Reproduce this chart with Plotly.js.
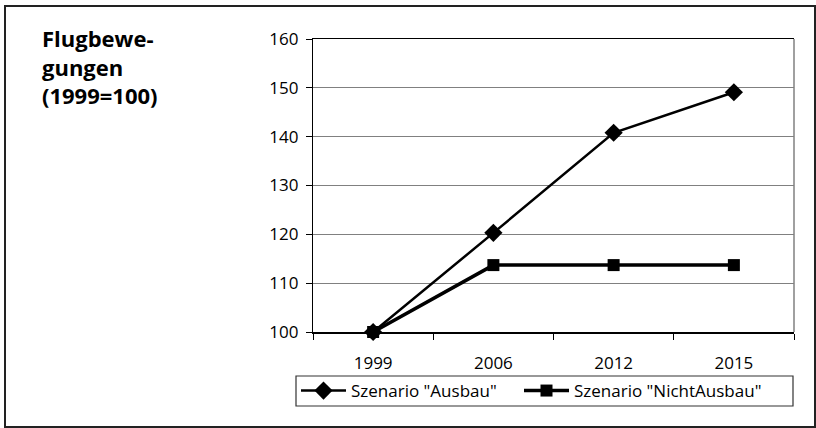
<!DOCTYPE html>
<html>
<head>
<meta charset="utf-8">
<script src="https://cdn.plot.ly/plotly-3.0.1.min.js"></script>
<style>html,body{margin:0;padding:0;background:#fff;}#chart{width:816px;height:428px;}</style>
</head>
<body>
<div id="chart"></div>
<script>
const years = ['1999', '2006', '2012', '2015'];
const ausbau = [100, 120.3, 140.8, 149.1];
const nichtAusbau = [100, 113.7, 113.7, 113.7];
const yTicks = [100, 110, 120, 130, 140, 150, 160];
const seriesNames = ['Szenario "Ausbau"', 'Szenario "NichtAusbau"'];
const titleText = 'Flugbewe-<br>gungen<br>(1999=100)';

const FONT = 'Open Sans, Liberation Sans, sans-serif';

const traces = [
  {
    x: years, y: ausbau, name: seriesNames[0], type: 'scatter', mode: 'lines+markers',
    line: {color: '#000', width: 2.5},
    marker: {symbol: 'diamond', size: 14, color: '#000'},
    cliponaxis: false, legend: 'legend'
  },
  {
    x: years, y: nichtAusbau, name: seriesNames[1], type: 'scatter', mode: 'lines+markers',
    line: {color: '#000', width: 3.5},
    marker: {symbol: 'square', size: 12, color: '#000'},
    cliponaxis: false, legend: 'legend2'
  }
];

const px2x = p => (p - 313) / 481;
const px2y = p => (332 - p) / 293;

const legendBase = {
  orientation: 'h', xanchor: 'left', y: px2y(391), yanchor: 'middle',
  borderwidth: 0, bgcolor: 'rgba(0,0,0,0)',
  font: {family: FONT, size: 17, color: '#000'},
  itemwidth: 45
};

const layout = {
  width: 816, height: 428,
  margin: {l: 313, r: 22, t: 39, b: 96},
  paper_bgcolor: '#fff', plot_bgcolor: '#fff',
  font: {family: FONT, size: 17, color: '#000'},
  showlegend: true,
  xaxis: {
    type: 'category', categoryarray: years, range: [-0.5, 3.5],
    showline: true, linecolor: '#000', linewidth: 1.5, mirror: true,
    ticks: 'outside', ticklen: 6, tickcolor: '#000', tickson: 'boundaries',
    showgrid: false, zeroline: false,
    tickfont: {family: FONT, size: 17, color: '#000'},
    ticklabelstandoff: 15,
    fixedrange: true
  },
  yaxis: {
    range: [100, 160], tickvals: yTicks, ticktext: yTicks.map(String),
    showline: true, linecolor: '#000', linewidth: 1.2,
    ticks: 'outside', ticklen: 6, tickcolor: '#000',
    showgrid: true, gridcolor: '#808080', gridwidth: 1.2, zeroline: false,
    tickfont: {family: FONT, size: 17, color: '#000'},
    ticklabelstandoff: 4,
    fixedrange: true
  },
  legend: Object.assign({}, legendBase, {x: px2x(296)}),
  legend2: Object.assign({}, legendBase, {x: px2x(519)}),
  shapes: [
    {type: 'line', xref: 'paper', yref: 'paper', x0: 1, x1: 1, y0: 0, y1: 1,
     line: {color: '#808080', width: 1.5}},
    {type: 'rect', xref: 'paper', yref: 'paper',
     x0: px2x(5), x1: px2x(815), y0: px2y(427), y1: px2y(6),
     line: {color: '#222', width: 2}, fillcolor: 'rgba(0,0,0,0)', layer: 'below'},
    {type: 'rect', xref: 'paper', yref: 'paper',
     x0: px2x(296), x1: px2x(793), y0: px2y(406), y1: px2y(376),
     line: {color: '#333', width: 1.2}, fillcolor: 'rgba(0,0,0,0)', layer: 'below'}
  ],
  annotations: [
    {text: '<b>' + titleText + '</b>', xref: 'paper', yref: 'paper',
     x: px2x(40), xanchor: 'left', y: px2y(21), yanchor: 'top',
     align: 'left', showarrow: false,
     font: {family: FONT, size: 22, color: '#000'}}
  ]
};

Plotly.newPlot('chart', traces, layout, {displayModeBar: false, staticPlot: true});
</script>
</body>
</html>
